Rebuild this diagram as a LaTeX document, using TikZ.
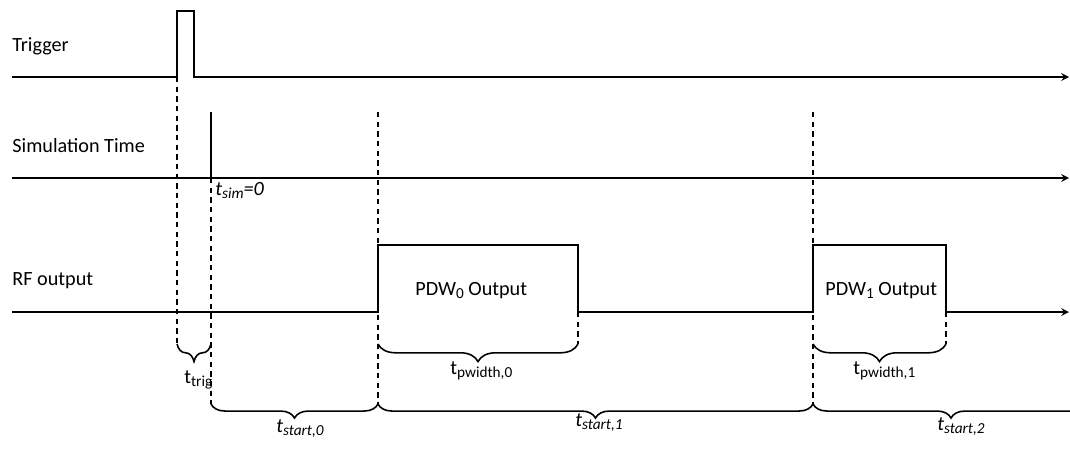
\documentclass[tikz,border=0pt]{standalone}
\usepackage{fontspec}
\setmainfont{Carlito}
\usepackage{tikz}
\usetikzlibrary{arrows, decorations.pathreplacing}
\tikzset{>=stealth}
\newcommand{\lowsub}[1]{\raisebox{-2pt}{\fontsize{8.7}{10}\selectfont #1}}

\begin{document}
\begin{tikzpicture}[x=0.02cm, y=-0.02cm, font=\fontsize{11.5}{14}\selectfont,
  sig/.style={line width=0.95pt, line join=miter},
  guide/.style={line width=0.95pt, dash pattern=on 3pt off 2.5pt},
  brc/.style={decorate, decoration={brace, mirror, amplitude=#1}, line width=0.9pt},
  lbl/.style={anchor=base west, inner sep=0pt}]
\useasboundingbox (0,0) rectangle (1070,451);
\clip (0,0) rectangle (1070,451);
% time instants
\coordinate (lft) at (12,0);
\coordinate (trigOn) at (177,0);
\coordinate (trigOff) at (194,0);
\coordinate (simZero) at (211,0);
\coordinate (pdw0s) at (378,0);
\coordinate (pdw0e) at (578,0);
\coordinate (pdw1s) at (813,0);
\coordinate (pdw1e) at (946,0);
\coordinate (rgt) at (1069,0);
\coordinate (far) at (1089,0);
% levels
\coordinate (trigLo) at (0,77);
\coordinate (trigHi) at (0,11);
\coordinate (simLo) at (0,178);
\coordinate (simHi) at (0,112);
\coordinate (rfLo) at (0,312);
\coordinate (rfHi) at (0,245);
\coordinate (pwRow) at (0,344);
\coordinate (stRow) at (0,404);

% signals
\draw[sig,->] (lft |- trigLo) -- (trigOn |- trigLo) -- (trigOn |- trigHi) -- (trigOff |- trigHi)
  -- (trigOff |- trigLo) -- (rgt |- trigLo);
\draw[sig,->] (lft |- simLo) -- (rgt |- simLo);
\draw[sig] (simZero |- simHi) -- (simZero |- simLo);
\draw[sig,->] (lft |- rfLo) -- (pdw0s |- rfLo) -- (pdw0s |- rfHi) -- (pdw0e |- rfHi) -- (pdw0e |- rfLo)
  -- (pdw1s |- rfLo) -- (pdw1s |- rfHi) -- (pdw1e |- rfHi) -- (pdw1e |- rfLo) -- (rgt |- rfLo);

% dashed guides
\draw[guide] (trigOn |- trigLo) -- (trigOn |- pwRow);
\draw[guide] (simZero |- simLo) -- (simZero |- stRow);
\draw[guide] (pdw0s |- simHi) -- (pdw0s |- stRow);
\draw[guide] (pdw1s |- simHi) -- (pdw1s |- stRow);
\draw[guide] (pdw0e |- rfLo) -- (pdw0e |- pwRow);
\draw[guide] (pdw1e |- rfLo) -- (pdw1e |- pwRow);

% braces
\draw[brc=10pt] (trigOn |- pwRow) -- (simZero |- pwRow);
\draw[brc=10pt] (pdw0s |- pwRow) -- (pdw0e |- pwRow);
\draw[brc=10pt] (pdw1s |- pwRow) -- (pdw1e |- pwRow);
\draw[brc=8pt] (simZero |- stRow) -- (pdw0s |- stRow);
\draw[brc=8pt] (pdw0s |- stRow) -- (pdw1s |- stRow);
\draw[brc=8pt] (pdw1s |- stRow) -- (far |- stRow);

% labels
\node[lbl] (trigLbl) at (12,51) {Trigger};
\node[lbl] (simLbl) at (12,152) {Simulation Time};
\node[lbl] (rfLbl) at (12,285) {RF output};
\node[lbl] (pdw0Lbl) at (415,295) {PDW\lowsub{0} Output};
\node[lbl] (pdw1Lbl) at (825,295) {PDW\lowsub{1} Output};
\node[lbl] (tSim) at (215,195) {\itshape t\lowsub{sim}=0};
\node[lbl] (tTrig) at (184,383) {t\lowsub{trig}};
\node[lbl] (tPw0) at (450,374) {t\lowsub{pwidth,0}};
\node[lbl] (tPw1) at (853,374) {t\lowsub{pwidth,1}};
\node[lbl] (tSt0) at (276,432) {\itshape t\lowsub{start,0}};
\node[lbl] (tSt1) at (575,426) {\itshape t\lowsub{start,1}};
\node[lbl] (tSt2) at (937,430) {\itshape t\lowsub{start,2}};
\end{tikzpicture}
\end{document}
